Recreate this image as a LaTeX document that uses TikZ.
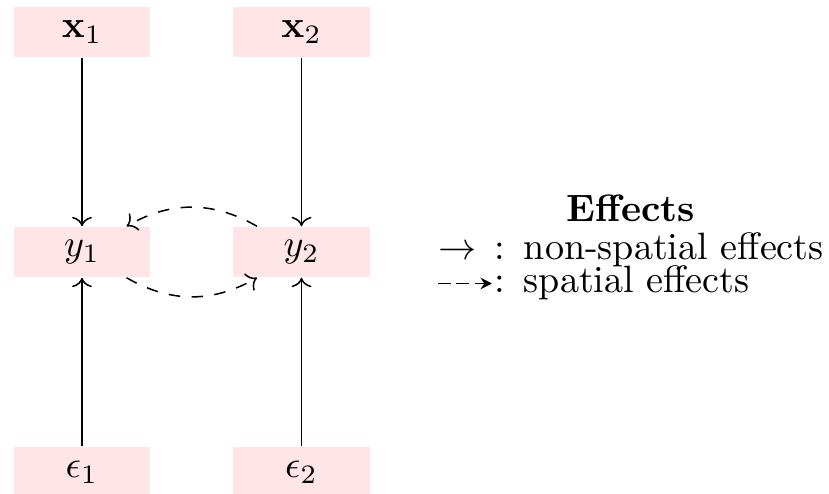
\documentclass[tikz,border=0pt]{standalone}
\usetikzlibrary{arrows.meta}
\begin{document}
\begin{tikzpicture}[x=0.2625pt,y=-0.2625pt,
  box/.style={fill=red!10, draw=none, minimum width=35.7pt, minimum height=13.1pt, inner sep=1pt},
  leg/.style={inner sep=0pt, anchor=base west},
  eff/.style={->},
  spat/.style={->, dashed}]
\useasboundingbox (0,0) rectangle (829,494);
% nodes
\node[box] (x1) at (82,32) {$\mathbf{x}_1$};
\node[box] (x2) at (301.5,32) {$\mathbf{x}_2$};
\node[box] (y1) at (82,252) {$y_1$};
\node[box] (y2) at (301.5,252) {$y_2$};
\node[box] (e1) at (82,472) {$\epsilon_1$};
\node[box] (e2) at (301.5,472) {$\epsilon_2$};
% connectors
\draw[eff] (x1) -- (y1);
\draw[eff] (x2) -- (y2);
\draw[eff] (e1) -- (y1);
\draw[eff] (e2) -- (y2);
\draw[spat] (y2) to[bend right=30] (y1);
\draw[spat] (y1) to[bend right=30] (y2);
% legend
\node[inner sep=0pt, anchor=base] (ltitle) at (631,221) {\textbf{Effects}};
\node[leg] (lsym1) at (438,259) {$\rightarrow$};
\node[leg] (ltext1) at (494,259) {:\hspace{4.85pt}non-spatial effects};
\coordinate (ld1) at (438,283.5);
\coordinate (ld2) at (492,283.5);
\draw[line width=0.5pt, dash pattern=on 3.3pt off 1.5pt, -{Stealth[length=3pt,width=3pt]}] (ld1) -- (ld2);
\node[leg] (ltext2) at (494,292) {:\hspace{4.85pt}spatial effects};
\end{tikzpicture}
\end{document}
